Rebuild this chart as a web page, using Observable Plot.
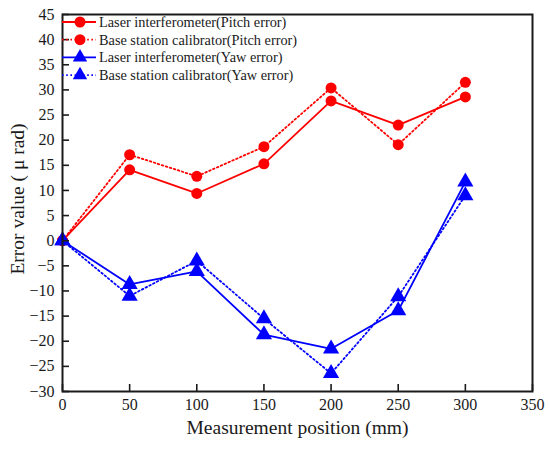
<!DOCTYPE html>
<html><head><meta charset="utf-8">
<script src="https://cdn.jsdelivr.net/npm/d3@7"></script>
<script src="https://cdn.jsdelivr.net/npm/@observablehq/plot@0.6"></script>
<style>
body{margin:0;background:#fff}
svg, svg text{font-family:'Liberation Serif','DejaVu Serif','Times New Roman',serif !important;}
</style>
</head><body><div id="chart"></div>
<script>
const positions = [0, 50, 100, 150, 200, 250, 300];
const laserPitch = [0, 14.1, 9.4, 15.3, 27.8, 23.0, 28.6];
const basePitch = [0, 17.1, 12.8, 18.7, 30.4, 19.1, 31.5];
const laserYaw = [0, -8.7, -6.1, -18.7, -21.5, -13.9, 11.7];
const baseYaw = [0, -11.0, -4.0, -15.5, -26.4, -11.1, 9.0];
const xTicks = [0, 50, 100, 150, 200, 250, 300, 350];
const yTicks = d3.range(-30, 46, 5);

const series = [
  {name: "Laser interferometer(Pitch error)", values: laserPitch, color: "#ff0000", dash: null, symbol: "circle"},
  {name: "Base station calibrator(Pitch error)", values: basePitch, color: "#ff0000", dash: "1.6,2.6", symbol: "circle"},
  {name: "Laser interferometer(Yaw error)", values: laserYaw, color: "#0000ff", dash: null, symbol: "triangle"},
  {name: "Base station calibrator(Yaw error)", values: baseYaw, color: "#0000ff", dash: "1.6,2.6", symbol: "triangle"}
];
const font = "'Liberation Serif', 'DejaVu Serif', serif";

const marks = [];
for (const s of series) {
  const data = positions.map((x, i) => ({x, y: s.values[i]}));
  marks.push(Plot.line(data, {x: "x", y: "y", stroke: s.color, strokeWidth: 1.8, strokeDasharray: s.dash}));
  marks.push(Plot.dot(data, {x: "x", y: "y", fill: s.color, stroke: "none", symbol: s.symbol, r: s.symbol === "circle" ? 5.5 : 6}));
}

const chart = Plot.plot({
  width: 550, height: 452,
  marginLeft: 62, marginRight: 18, marginTop: 14, marginBottom: 61,
  style: {fontFamily: font, background: "#fff", color: "#1a1a1a"},
  x: {domain: [0, 350]},
  y: {domain: [-30, 45]},
  marks: [
    ...marks,
    Plot.axisX({ticks: xTicks, tickSize: -7, tickPadding: 14, fontSize: 16, label: null, stroke: "#1a1a1a", strokeWidth: 1.6, fill: "#1a1a1a"}),
    Plot.axisY({ticks: yTicks, tickSize: -7, tickPadding: 15, fontSize: 16, label: null, stroke: "#1a1a1a", strokeWidth: 1.6, fill: "#1a1a1a"}),
    Plot.frame({stroke: "#1a1a1a", strokeWidth: 2}),
    Plot.text(["Measurement position (mm)"], {frameAnchor: "bottom", dy: 42, fontSize: 19.5, fill: "#1a1a1a"}),
    Plot.text(["Error value ( μ rad)"], {frameAnchor: "left", textAnchor: "middle", dx: -45, dy: -4, rotate: -90, fontSize: 19.5, fill: "#1a1a1a"})
  ]
});
document.getElementById("chart").append(chart);

// legend inside the frame
const svg = d3.select(chart);
const lg = svg.append("g").attr("font-size", 14.3).attr("fill", "#1a1a1a").attr("text-anchor", "start");
series.forEach((s, i) => {
  const y = 22 + i * 17.7;
  const ln = lg.append("line").attr("x1", 62).attr("x2", 96).attr("y1", y).attr("y2", y)
    .attr("stroke", s.color).attr("stroke-width", 1.8);
  if (s.dash) ln.attr("stroke-dasharray", s.dash);
  const sym = s.symbol === "circle" ? d3.symbolCircle : d3.symbolTriangle;
  const size = s.symbol === "circle" ? Math.PI * 5.5 * 5.5 : 90;
  lg.append("path").attr("d", d3.symbol(sym, size)()).attr("transform", `translate(80,${y})`).attr("fill", s.color);
  lg.append("text").attr("x", 99).attr("y", y).attr("dy", "0.35em").attr("text-anchor", "start").text(s.name);
});
</script>
</body></html>
